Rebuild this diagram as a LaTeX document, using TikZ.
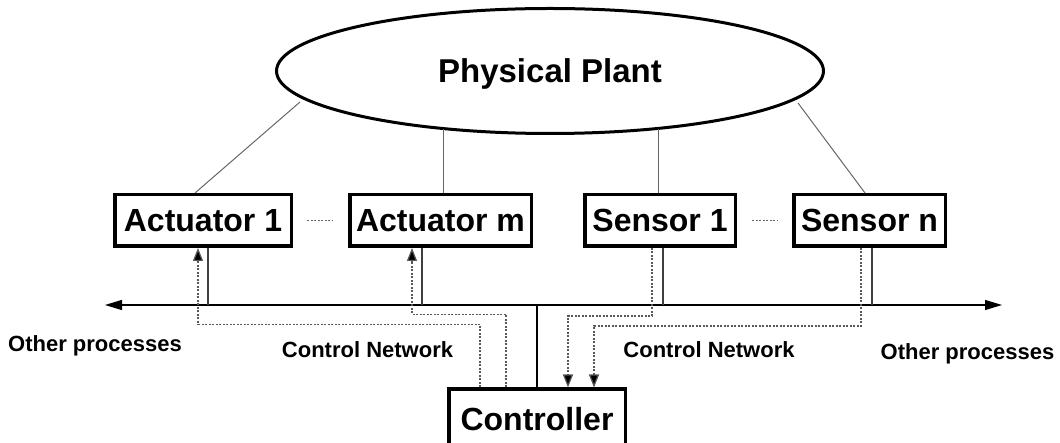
\documentclass[tikz,border=0pt]{standalone}
\usepackage{fontspec}
\setmainfont{Liberation Sans}
\usetikzlibrary{shapes.geometric,arrows.meta}
\begin{document}
\begin{tikzpicture}[x=1pt,y=-1pt,
  box/.style={draw, line width=3.5pt, inner sep=0pt, minimum height=51.5pt,
    font=\fontsize{32}{36}\selectfont\bfseries},
  plantshape/.style={draw, ellipse, line width=3pt, inner sep=0pt,
    minimum width=547pt, minimum height=125pt},
  lbl/.style={anchor=base, inner sep=0pt, font=\fontsize{22}{26}\selectfont\bfseries},
  thin link/.style={draw=black!60, line width=1pt},
  buslink/.style={draw=black!75, line width=1.1pt},
  bus/.style={draw=black, line width=1.2pt, {Triangle[length=17pt,width=10pt]}-{Triangle[length=17pt,width=10pt]}},
  ctl/.style={draw=black!65, line width=1.2pt, dash pattern=on 2pt off 1.5pt},
  ctlarrow/.style={ctl, -{Triangle[length=13pt,width=10pt,fill=black]}},
  dotsep/.style={draw=black!60, line width=1pt, dash pattern=on 2pt off 1.5pt}
]
\useasboundingbox (0,0) rectangle (1060,443);

% nodes
\node[plantshape] (plant) at (550,71) {};
\node[anchor=base, inner sep=0pt, font=\fontsize{33}{38}\selectfont\bfseries] (planttext) at (550,83) {Physical Plant};
\node[box, minimum width=176.5pt] (act1) at (203,220.5) {Actuator 1};
\node[box, minimum width=181.5pt] (actm) at (440.5,220.5) {Actuator m};
\node[box, minimum width=150.5pt] (sen1) at (660,220.5) {Sensor 1};
\node[box, minimum width=151.5pt] (senn) at (869.5,220.5) {Sensor n};
\node[box, minimum width=176.5pt, minimum height=60pt, anchor=north] (ctrl) at (537,387.5) {};
\node[inner sep=0pt, font=\fontsize{32}{36}\selectfont\bfseries] (ctrltext) at (537,419) {Controller};

% bus
\coordinate (busL) at (105,305);
\coordinate (busR) at (1002,305);
\draw[bus] (busL) -- (busR);

% labels
\node[lbl] (op1) at (95,352) {Other processes};
\node[lbl] (cn1) at (367.5,358) {Control Network};
\node[lbl] (cn2) at (709,358) {Control Network};
\node[lbl] (op2) at (967.5,360) {Other processes};

% points on the plant outline
\coordinate (pA) at ([shift={(-250,31)}]plant.center);
\coordinate (pB) at ([shift={(-107,58)}]plant.center);
\coordinate (pC) at ([shift={(108,58)}]plant.center);
\coordinate (pD) at ([shift={(248,32)}]plant.center);

% plant to devices
\draw[thin link] ([xshift=-8pt]act1.north) -- (pA);
\draw[thin link] ([xshift=2.5pt]actm.north) -- ([xshift=2.5pt]actm.north |- pB);
\draw[thin link] ([xshift=-2pt]sen1.north) -- ([xshift=-2pt]sen1.north |- pC);
\draw[thin link] ([xshift=-4.5pt]senn.north) -- (pD);

% dotted separators
\draw[dotsep] ([xshift=14pt]act1.east) coordinate (d1a) -- ([xshift=-16pt]actm.west) coordinate (d1b);
\draw[dotsep] ([xshift=15pt]sen1.east) coordinate (d2a) -- ([xshift=-15pt]senn.west) coordinate (d2b);

% devices to bus
\draw[buslink] ([xshift=5pt]act1.south) -- ([xshift=5pt]act1.south |- busL);
\draw[buslink] ([xshift=-18.5pt]actm.south) -- ([xshift=-18.5pt]actm.south |- busL);
\draw[buslink] ([xshift=3pt]sen1.south) -- ([xshift=3pt]sen1.south |- busL);
\draw[buslink] ([xshift=2.5pt]senn.south) -- ([xshift=2.5pt]senn.south |- busL);
\draw[draw=black, line width=1.1pt] (ctrl.north) -- (ctrl.north |- busL);

% control network paths
\draw[ctlarrow] ([xshift=-57pt]ctrl.north) -- ++(0,-63) -| ([xshift=-5pt]act1.south);
\draw[ctlarrow] ([xshift=-31pt]ctrl.north) -- ++(0,-73) -| ([xshift=-28.5pt]actm.south);
\draw[ctlarrow] ([xshift=-8pt]sen1.south) -- ++(0,68) -| ([xshift=31pt]ctrl.north);
\draw[ctlarrow] ([xshift=-8.5pt]senn.south) -- ++(0,78) -| ([xshift=57pt]ctrl.north);
\end{tikzpicture}
\end{document}
